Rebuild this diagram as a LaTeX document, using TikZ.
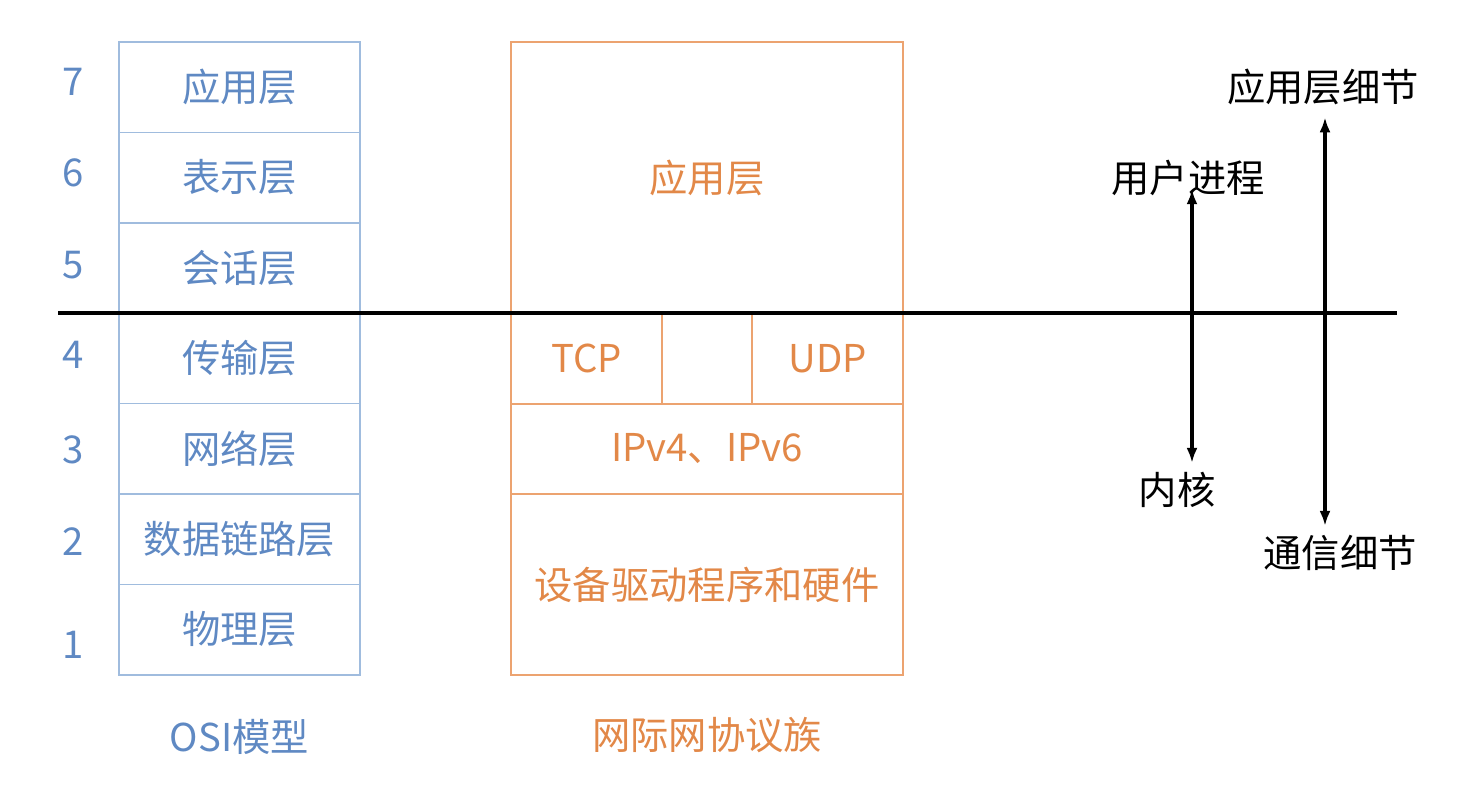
\documentclass[tikz,border=0pt]{standalone}
\usepackage{fontspec}
\setmainfont{Noto Sans CJK SC}
\usepackage{xcolor}
\definecolor{osiline}{RGB}{160,188,222}
\definecolor{ositext}{RGB}{95,137,195}
\definecolor{ipline}{RGB}{236,163,112}
\definecolor{iptext}{RGB}{226,136,72}
\usetikzlibrary{positioning}
\usetikzlibrary{arrows.meta}

\tikzset{
	osilayer/.style={rectangle, draw=osiline, line width=1pt, minimum width=4.82cm, minimum height=1.808cm, text=ositext, inner sep=0},
	ipbox/.style={rectangle, draw=ipline, line width=1pt, text=iptext, inner sep=0},
	num/.style={text=ositext, inner sep=0},
	tag/.style={inner sep=0},
	biarrow/.style={{Latex[length=0.3cm,width=0.22cm]}-{Latex[length=0.3cm,width=0.22cm]}, line width=2.1pt}
}

\begin{document}
\begin{tikzpicture}[font=\fontsize{21.8}{26}\selectfont]
	\useasboundingbox (0,0) rectangle (29.4,-15.88);
	% OSI model
	\node[osilayer] (osi7) at (4.79,-1.744) {应用层};
	\node[osilayer] (osi6) at (4.79,-3.552) {表示层};
	\node[osilayer] (osi5) at (4.79,-5.36) {会话层};
	\node[osilayer] (osi4) at (4.79,-7.168) {传输层};
	\node[osilayer] (osi3) at (4.79,-8.976) {网络层};
	\node[osilayer] (osi2) at (4.79,-10.784) {数据链路层};
	\node[osilayer] (osi1) at (4.79,-12.592) {物理层};
	\node[num] (n7) at (1.46,-1.64) {7};
	\node[num] (n6) at (1.46,-3.46) {6};
	\node[num] (n5) at (1.46,-5.3) {5};
	\node[num] (n4) at (1.46,-7.1) {4};
	\node[num] (n3) at (1.46,-9.0) {3};
	\node[num] (n2) at (1.46,-10.84) {2};
	\node[num] (n1) at (1.46,-12.9) {1};
	\node[tag, text=ositext, below=0.86 of osi1] (osiname) {OSI模型};
	% internet protocol suite
	\node[ipbox, minimum width=7.84cm, minimum height=5.42cm] (app) at (14.14,-3.55) {应用层};
	\node[ipbox, minimum width=3.02cm, minimum height=1.82cm] (tcp) at (11.73,-7.17) {TCP};
	\node[ipbox, minimum width=1.8cm, minimum height=1.82cm] (gap) at (14.14,-7.17) {};
	\node[ipbox, minimum width=3.02cm, minimum height=1.82cm] (udp) at (16.55,-7.17) {UDP};
	\node[ipbox, minimum width=7.84cm, minimum height=1.8cm] (ip) at (14.14,-8.98) {IPv4、IPv6};
	\node[ipbox, minimum width=7.84cm, minimum height=3.62cm] (drv) at (14.14,-11.69) {设备驱动程序和硬件};
	\node[tag, text=iptext, below=0.82 of drv] (ipname) {网际网协议族};
	% user / kernel divide
	\coordinate (lineL) at (1.16,-6.26);
	\coordinate (lineR) at (27.94,-6.26);
	\draw[line width=2.1pt] (lineL) -- (lineR);
	\node[tag] (user) at (23.76,-3.56) {用户进程};
	\node[tag] (kernel) at (23.54,-9.8) {内核};
	\node[tag] (appinfo) at (26.46,-1.74) {应用层细节};
	\node[tag] (comminfo) at (26.8,-11.06) {通信细节};
	\draw[biarrow, shorten <=-0.14cm, shorten >=0.18cm] ([xshift=0.08cm]user.south) -- ([xshift=0.08cm]user.south |- kernel.north);
	\draw[biarrow, shorten <=0.24cm, shorten >=0.18cm] ([xshift=0.04cm]appinfo.south) -- ([xshift=0.04cm]appinfo.south |- comminfo.north);
\end{tikzpicture}
\end{document}
